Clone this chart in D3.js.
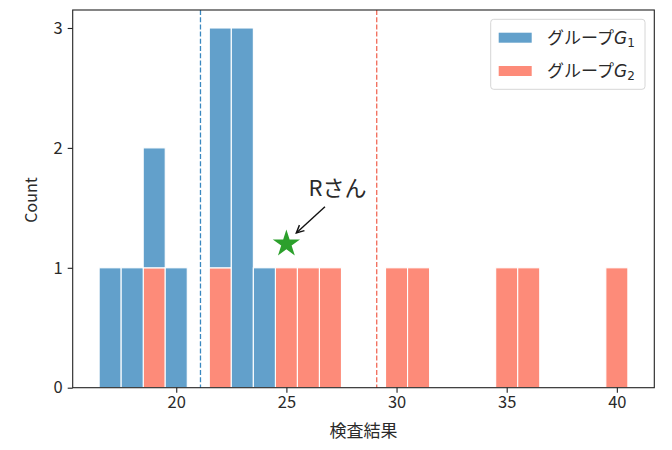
<!DOCTYPE html>
<html><head><meta charset="utf-8">
<script src="https://cdn.jsdelivr.net/npm/d3@7"></script>
<style>body{margin:0;background:#fff}svg{display:block}</style>
</head><body>
<script>
const binCenters = [17,18,19,20,21,22,23,24,25,26,27,28,29,30,31,32,33,34,35,36,37,38,39,40];
const countsG1   = [1,1,1,1,0,2,3,1,0,0,0,0,0,0,0,0,0,0,0,0,0,0,0,0];
const countsG2   = [0,0,1,0,0,1,0,0,1,1,1,0,0,1,1,0,0,0,1,1,0,0,0,1];
const binWidth = 1;
const meanG1 = 21.1, meanG2 = 29.1;
const xTicks = [20,25,30,35,40];
const yTicks = [0,1,2,3];
const starPoint = [25, 1.2];
const annoText = "Rさん";
const annoTextPos = [26, 1.6];
const arrowHead = [25.45, 1.29];
const arrowTail = [26.75, 1.51];
const seriesNames = ["1","2"];

const W = 672, H = 450;
const m = {l:72.7, r:654.3, t:10, b:387.7};
const font = "'Noto Sans CJK JP', 'DejaVu Sans', sans-serif";
const cBlue = "#62a0cb", cRed = "#fd8b79";
const txt = "#2a2a2a";

const svg = d3.select("body").append("svg").attr("width",W).attr("height",H);
const x = d3.scaleLinear().domain([15.3, 41.7]).range([m.l, m.r]);
const y = d3.scaleLinear().domain([0, 3.15]).range([m.b, m.t]);

const data = binCenters.map((c,i)=>({c, g2:countsG2[i], g1:countsG1[i]}));
const stack = d3.stack().keys(["g2","g1"])(data);
const colors = {g1:cBlue, g2:cRed};

const g = svg.append("g");
stack.forEach(layer=>{
  g.selectAll(null).data(layer.filter(d=>d[1]-d[0]>0)).enter().append("rect")
    .attr("x", d=>x(d.data.c - binWidth/2))
    .attr("width", d=>x(d.data.c + binWidth/2)-x(d.data.c - binWidth/2))
    .attr("y", d=>y(d[1]))
    .attr("height", d=>y(d[0])-y(d[1]))
    .attr("fill", colors[layer.key])
    .attr("stroke","#fff").attr("stroke-width",1.1);
});

// mean lines
[[meanG1,"#3a88c0"],[meanG2,"#f26a58"]].forEach(([v,c])=>{
  svg.append("line").attr("x1",x(v)).attr("x2",x(v)).attr("y1",m.t).attr("y2",m.b)
    .attr("stroke",c).attr("stroke-width",1.3).attr("stroke-dasharray","5,2.2");
});

// star
svg.append("path").attr("d", d3.symbol().type(d3.symbolStar).size(230)())
  .attr("transform",`translate(${x(starPoint[0])},${y(starPoint[1])})`)
  .attr("fill","#2ca02c");

// annotation
svg.append("text").attr("x",x(annoTextPos[0])).attr("y",y(annoTextPos[1]))
  .attr("font-family",font).attr("font-size",22).attr("fill",txt).text(annoText);
const hx=x(arrowHead[0]), hy=y(arrowHead[1]), tx=x(arrowTail[0]), ty=y(arrowTail[1]);
svg.append("line").attr("x1",tx).attr("y1",ty).attr("x2",hx).attr("y2",hy)
  .attr("stroke","#111").attr("stroke-width",1.4);
const ang = Math.atan2(ty-hy, tx-hx), L=8.5, sp=0.45;
svg.append("path")
  .attr("d",`M${hx+L*Math.cos(ang+sp)},${hy+L*Math.sin(ang+sp)}L${hx},${hy}L${hx+L*Math.cos(ang-sp)},${hy+L*Math.sin(ang-sp)}`)
  .attr("fill","none").attr("stroke","#111").attr("stroke-width",1.4);

// frame
svg.append("rect").attr("x",m.l).attr("y",m.t).attr("width",m.r-m.l).attr("height",m.b-m.t)
  .attr("fill","none").attr("stroke","#222").attr("stroke-width",1.1);

// axes
const xa = svg.append("g").attr("transform",`translate(0,${m.b})`)
  .call(d3.axisBottom(x).tickValues(xTicks).tickFormat(d3.format("d")).tickSize(5).tickPadding(4));
const ya = svg.append("g").attr("transform",`translate(${m.l},0)`)
  .call(d3.axisLeft(y).tickValues(yTicks).tickFormat(d3.format("d")).tickSize(5).tickPadding(5));
[xa,ya].forEach(a=>{
  a.select(".domain").remove();
  a.selectAll(".tick line").attr("stroke","#222").attr("stroke-width",1.1);
  a.selectAll(".tick text").attr("font-family",font).attr("font-size",16.5).attr("fill",txt);
});

svg.append("text").attr("x",(m.l+m.r)/2).attr("y",437).attr("text-anchor","middle")
  .attr("font-family",font).attr("font-size",17).attr("fill",txt).text("検査結果");
svg.append("text").attr("transform","translate(37,200) rotate(-90)").attr("text-anchor","middle")
  .attr("font-family",font).attr("font-size",16).attr("fill",txt).text("Count");

// legend
const lg = svg.append("g");
lg.append("rect").attr("x",490.7).attr("y",19.3).attr("width",154.3).attr("height",70)
  .attr("rx",3).attr("fill","#fff").attr("fill-opacity",0.8).attr("stroke","#d6d6d6").attr("stroke-width",1);
[[cBlue,37.7],[cRed,71]].forEach(([c,cy],i)=>{
  lg.append("rect").attr("x",498.7).attr("y",cy-5).attr("width",33).attr("height",10).attr("fill",c);
  const t = lg.append("text").attr("x",547).attr("y",cy+6).attr("font-family",font).attr("font-size",17).attr("fill",txt);
  t.append("tspan").text("グループ");
  t.append("tspan").attr("font-style","italic").attr("font-family","'DejaVu Sans', sans-serif").text("G");
  t.append("tspan").attr("font-size",12).attr("dy",3).attr("font-family","'DejaVu Sans', sans-serif").text(seriesNames[i]);
});
</script>
</body></html>
